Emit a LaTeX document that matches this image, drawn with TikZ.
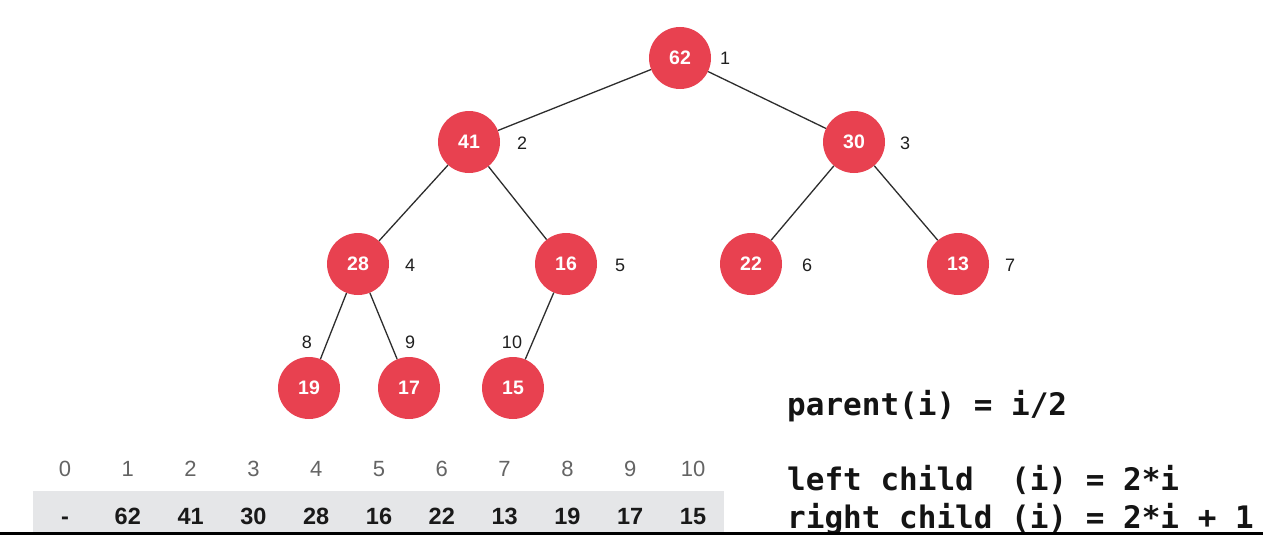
\documentclass[tikz,border=0pt]{standalone}
\usepackage{fontspec}
\setmainfont{Liberation Sans}
\newfontfamily\codefont{DejaVu Sans Mono}
\definecolor{heapred}{RGB}{232,65,80}
\definecolor{cellgray}{RGB}{229,230,232}
\definecolor{edgegray}{RGB}{45,45,45}
\definecolor{headgray}{RGB}{100,100,100}
\begin{document}
\begin{tikzpicture}[x=1pt,y=-1pt,
  heapnode/.style={circle,fill=heapred,minimum size=62pt,inner sep=0pt,text=white,
    font=\fontsize{19.5}{19.5}\selectfont\bfseries},
  idxlabel/.style={inner sep=0pt,text=black!88,font=\fontsize{18}{18}\selectfont},
  edge/.style={draw=edgegray,line width=1.3pt},
  headnum/.style={anchor=base,inner sep=0pt,text=headgray,font=\fontsize{22}{22}\selectfont},
  valnum/.style={anchor=base,inner sep=0pt,text=black!90,font=\fontsize{23.5}{23.5}\selectfont\bfseries},
  codeline/.style={anchor=base west,inner sep=0pt,text=black!92,
    font=\fontsize{31}{31}\selectfont\codefont\bfseries}]
\useasboundingbox[fill=white] (0,0) rectangle (1263,535);

% tree nodes
\node[heapnode] (n1) at (680,58) {62};
\node[heapnode] (n2) at (469,142) {41};
\node[heapnode] (n3) at (854,142) {30};
\node[heapnode] (n4) at (358,264) {28};
\node[heapnode] (n5) at (566,264) {16};
\node[heapnode] (n6) at (751,264) {22};
\node[heapnode] (n7) at (958,264) {13};
\node[heapnode] (n8) at (309,388) {19};
\node[heapnode] (n9) at (409,388) {17};
\node[heapnode] (n10) at (513,388) {15};

% edges
\draw[edge] (n1) -- (n2);
\draw[edge] (n1) -- (n3);
\draw[edge] (n2) -- (n4);
\draw[edge] (n2) -- (n5);
\draw[edge] (n3) -- (n6);
\draw[edge] (n3) -- (n7);
\draw[edge] (n4) -- (n8);
\draw[edge] (n4) -- (n9);
\draw[edge] (n5) -- (n10);

% index labels
\node[idxlabel] (l1) at (725,58) {1};
\node[idxlabel] (l2) at (522,143) {2};
\node[idxlabel] (l3) at (905,143) {3};
\node[idxlabel] (l4) at (410,265) {4};
\node[idxlabel] (l5) at (620,265) {5};
\node[idxlabel] (l6) at (807,265) {6};
\node[idxlabel] (l7) at (1010,265) {7};
\node[idxlabel] (l8) at (307,342) {8};
\node[idxlabel] (l9) at (410,342) {9};
\node[idxlabel] (l10) at (512,342) {10};

% array
\fill[cellgray] (33,491) rectangle (724,535);
\foreach \i/\v in {0/-,1/62,2/41,3/30,4/28,5/16,6/22,7/13,8/19,9/17,10/15}{
  \node[headnum] (h\i) at ({65+62.8*\i},476) {\i};
  \node[valnum] (v\i) at ({65+62.8*\i},524) {\v};
}

% formulas
\node[codeline] (f1) at (787,415) {parent(i) = i/2};
\node[codeline] (f2) at (787,490) {left child~~(i) = 2*i};
\node[codeline] (f3) at (787,528) {right child~(i) = 2*i + 1};

% bottom bar
\fill[black] (0,532) rectangle (1263,535);
\end{tikzpicture}
\end{document}
